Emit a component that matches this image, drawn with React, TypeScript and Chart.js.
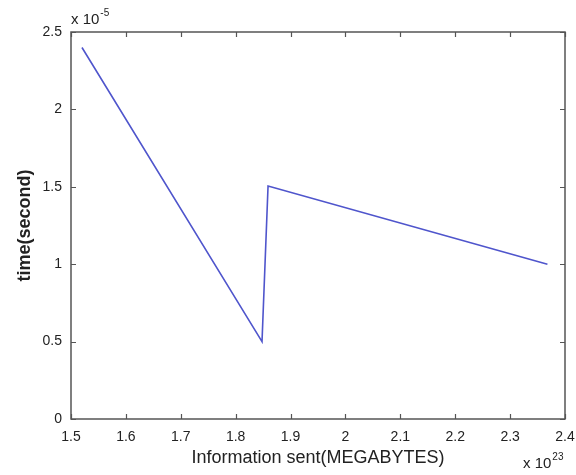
import React, { useEffect, useRef } from "react";
import { Chart, registerables } from "chart.js";

Chart.register(...registerables);

const xValues = [1.52, 1.848, 1.859, 2.368];
const yValues = [2.4, 0.5, 1.505, 1.0];
const xTicks = [1.5, 1.6, 1.7, 1.8, 1.9, 2, 2.1, 2.2, 2.3, 2.4];
const yTicks = [0, 0.5, 1, 1.5, 2, 2.5];

const FONT = "'Liberation Sans', Arial, sans-serif";
const AXIS = "#555555";

const boxPlugin = {
  id: "matlabBox",
  afterDraw(chart: any) {
    const { ctx, chartArea: a, scales } = chart;
    const xs = scales.x;
    const ys = scales.y;
    ctx.save();
    ctx.strokeStyle = AXIS;
    ctx.lineWidth = 1.5;
    ctx.strokeRect(a.left, a.top, a.right - a.left, a.bottom - a.top);
    ctx.lineWidth = 1.2;
    const tl = 5;
    ctx.beginPath();
    xs.ticks.forEach((t: any) => {
      const px = Math.round(xs.getPixelForValue(t.value)) + 0.5;
      ctx.moveTo(px, a.bottom);
      ctx.lineTo(px, a.bottom - tl);
      ctx.moveTo(px, a.top);
      ctx.lineTo(px, a.top + tl);
    });
    ys.ticks.forEach((t: any) => {
      const py = Math.round(ys.getPixelForValue(t.value)) + 0.5;
      ctx.moveTo(a.left, py);
      ctx.lineTo(a.left + tl, py);
      ctx.moveTo(a.right, py);
      ctx.lineTo(a.right - tl, py);
    });
    ctx.stroke();

    ctx.fillStyle = "#222222";
    ctx.textBaseline = "alphabetic";
    ctx.textAlign = "left";
    // y exponent
    ctx.font = `15px ${FONT}`;
    const base1 = "x 10";
    ctx.fillText(base1, a.left, a.top - 8);
    const w1 = ctx.measureText(base1).width;
    ctx.font = `10px ${FONT}`;
    ctx.fillText("-5", a.left + w1 + 1, a.top - 16);
    // x exponent
    ctx.font = `15px ${FONT}`;
    const bx = a.right - 42;
    ctx.fillText(base1, bx, 468);
    const w2 = ctx.measureText(base1).width;
    ctx.font = `10px ${FONT}`;
    ctx.fillText("23", bx + w2 + 1, 460);
    ctx.restore();
  },
};

export default function App() {
  const ref = useRef<HTMLCanvasElement | null>(null);
  useEffect(() => {
    document.body.style.margin = "0";
    const canvas = ref.current!;
    const chart = new Chart(canvas, {
      type: "line",
      data: {
        datasets: [
          {
            data: xValues.map((x, i) => ({ x, y: yValues[i] })),
            borderColor: "#4f55cc",
            borderWidth: 1.6,
            pointRadius: 0,
            fill: false,
            tension: 0,
          },
        ],
      },
      options: {
        animation: false,
        responsive: false,
        maintainAspectRatio: false,
        layout: { padding: { top: 32, right: 11, bottom: 0, left: 0 } },
        plugins: {
          legend: { display: false },
          tooltip: { enabled: false },
        },
        scales: {
          x: {
            type: "linear",
            min: 1.5,
            max: 2.4,
            afterBuildTicks: (s: any) => {
              s.ticks = xTicks.map((v) => ({ value: v }));
            },
            afterFit: (s: any) => {
              s.height = 56;
              s.paddingLeft = 0;
              s.paddingRight = 0;
            },
            grid: { display: false, drawTicks: false },
            border: { display: false },
            ticks: {
              padding: 10,
              color: "#222222",
              font: { family: FONT, size: 14 },
              maxRotation: 0,
              autoSkip: false,
              callback: (v: any) => String(Number(v)),
            },
            title: {
              display: true,
              text: "Information sent(MEGABYTES)",
              color: "#222222",
              font: { family: FONT, size: 18 },
              padding: { top: 0, bottom: 6 },
            },
          },
          y: {
            type: "linear",
            min: 0,
            max: 2.5,
            afterBuildTicks: (s: any) => {
              s.ticks = yTicks.map((v) => ({ value: v }));
            },
            afterFit: (s: any) => {
              s.width = 71;
              s.paddingTop = 0;
              s.paddingBottom = 0;
            },
            grid: { display: false, drawTicks: false },
            border: { display: false },
            ticks: {
              padding: 9,
              color: "#222222",
              font: { family: FONT, size: 14 },
              autoSkip: false,
              callback: (v: any) => String(Number(v)),
            },
            title: {
              display: true,
              text: "time(second)",
              color: "#222222",
              font: { family: FONT, size: 18, weight: "bold" },
              padding: { top: 14, bottom: 0 },
            },
          },
        },
      },
      plugins: [boxPlugin],
    });
    return () => chart.destroy();
  }, []);
  return (
    <div style={{ width: 576, height: 475, background: "#fff" }}>
      <canvas ref={ref} width={576} height={475} style={{ display: "block" }} />
    </div>
  );
}
